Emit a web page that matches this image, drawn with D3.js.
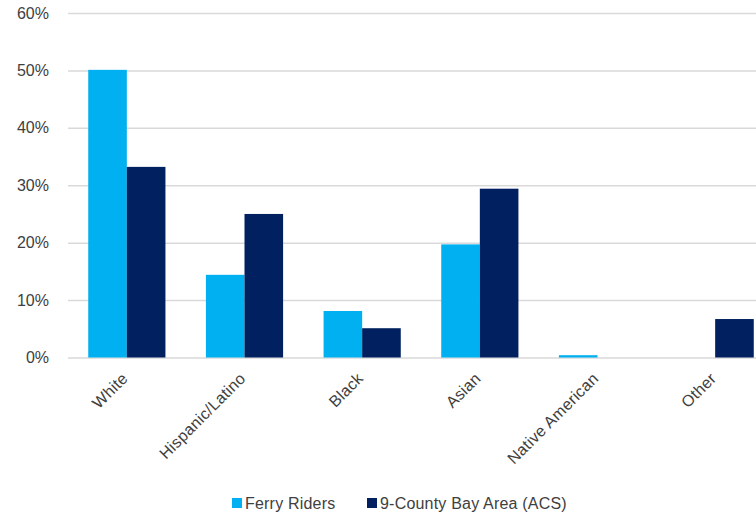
<!DOCTYPE html>
<html>
<head>
<meta charset="utf-8">
<script src="https://cdn.jsdelivr.net/npm/d3@7"></script>
<style>
  html, body { margin: 0; padding: 0; background: #fff; }
  svg { display: block; font-family: "Liberation Sans", Arial, sans-serif; }
</style>
</head>
<body>
<svg id="chart" width="756" height="514"></svg>
<script>
// Share of population by race/ethnicity
const categories = ["White", "Hispanic/Latino", "Black", "Asian", "Native American", "Other"];
const ferryRiders = [50.1, 14.4, 8.1, 19.7, 0.4, 0];
const bayArea = [33.2, 25.0, 5.1, 29.4, 0, 6.7];
const seriesNames = ["Ferry Riders", "9-County Bay Area (ACS)"];
const yTicks = [0, 10, 20, 30, 40, 50, 60];

const colors = ["#00B0F0", "#002060"];
const series = [ferryRiders, bayArea];

const svg = d3.select("#chart");
const plot = { left: 68, right: 774, top: 13, bottom: 357.5 };

const x = d3.scaleBand().domain(categories).range([plot.left, plot.right]).paddingInner(0.344).paddingOuter(0.172);
const xs = d3.scaleBand().domain(d3.range(series.length)).range([0, x.bandwidth()]);
const y = d3.scaleLinear().domain([0, 60]).range([plot.bottom, plot.top]);

// Gridlines and value axis labels
const yAxis = d3.axisLeft(y).tickValues(yTicks).tickSize(-(plot.right - plot.left)).tickFormat(d => d + "%").tickPadding(19);
const gy = svg.append("g").attr("transform", `translate(${plot.left},0)`).call(yAxis);
gy.select(".domain").remove();
gy.selectAll(".tick line").attr("stroke", "#D9D9D9").attr("stroke-width", 1.5);
gy.selectAll(".tick text").attr("fill", "#404040").attr("font-size", 16)
  .attr("font-family", "Liberation Sans, Arial, sans-serif");

// Bars
series.forEach((vals, si) => {
  svg.append("g").selectAll("rect").data(categories).join("rect")
    .attr("x", c => x(c) + xs(si))
    .attr("y", (c, i) => y(vals[i]))
    .attr("width", xs.bandwidth())
    .attr("height", (c, i) => y(0) - y(vals[i]))
    .attr("fill", colors[si]);
});

// Category labels, rotated
const xAxis = d3.axisBottom(x).tickSize(0).tickPadding(0);
const gx = svg.append("g").attr("transform", `translate(0,${plot.bottom})`).call(xAxis);
gx.select(".domain").remove();
gx.selectAll(".tick text")
  .attr("fill", "#404040").attr("font-size", 16)
  .attr("font-family", "Liberation Sans, Arial, sans-serif")
  .attr("letter-spacing", 0.3)
  .attr("text-anchor", "end")
  .attr("dy", null)
  .attr("transform", "translate(2,22) rotate(-45)")
  .attr("y", 0).attr("x", 0);

// Legend
const legend = svg.append("g");
const items = [{ x: 232, label: seriesNames[0], color: colors[0] }, { x: 367, label: seriesNames[1], color: colors[1] }];
items.forEach(it => {
  legend.append("rect").attr("x", it.x).attr("y", 498).attr("width", 10).attr("height", 10).attr("fill", it.color);
  legend.append("text").attr("x", it.x + 13).attr("y", 508.5).attr("font-size", 16)
    .attr("letter-spacing", 0.2).attr("fill", "#404040").text(it.label);
});
</script>
</body>
</html>
